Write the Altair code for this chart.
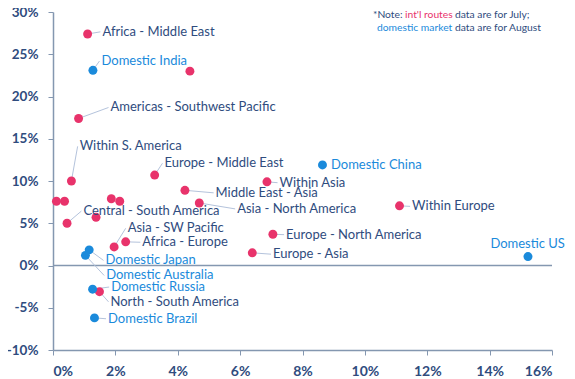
import altair as alt
import pandas as pd

# ---- data (percent growth) ----
names = [
    "Africa - Middle East", "", "Americas - Southwest Pacific", "Within S. America",
    "Europe - Middle East", "", "", "", "", "Central - South America", "",
    "Middle East - Asia", "Asia - North America", "Within Asia", "Within Europe",
    "Europe - North America", "Europe - Asia", "Asia - SW Pacific", "Africa - Europe",
    "North - South America",
    "Domestic India", "Domestic China", "Domestic US", "Domestic Japan",
    "Domestic Australia", "Domestic Russia", "Domestic Brazil",
]
x_vals = [1.11, 4.39, 0.82, 0.59, 3.26, 0.11, 0.37, 1.87, 2.14, 0.45, 1.38,
          4.23, 4.69, 6.86, 11.11, 7.05, 6.39, 1.96, 2.33, 1.49,
          1.28, 8.64, 15.23, 1.16, 1.04, 1.27, 1.33]
y_vals = [27.4, 23.0, 17.4, 10.0, 10.7, 7.6, 7.6, 7.9, 7.6, 5.0, 5.7,
          8.9, 7.4, 9.9, 7.06, 3.7, 1.5, 2.2, 2.8, -3.1,
          23.1, 11.9, 1.06, 1.85, 1.2, -2.8, -6.2]
kinds = ["intl"] * 20 + ["domestic"] * 7

# label anchor positions (data units) and whether a leader line is drawn
label_x = [1.52, None, 1.78, 0.79, 3.51, None, None, None, None, 0.91, None,
           5.15, 5.84, 7.20, 11.45, 7.41, 6.99, 2.33, 2.80, 1.78,
           1.49, 8.85, 13.96, 1.62, 1.64, 1.80, 1.70]
label_y = [27.65, None, 18.7, 14.1, 12.1, None, None, None, None, 6.44, None,
           8.6, 6.7, 9.8, 7.0, 3.65, 1.34, 4.4, 2.75, -4.3,
           24.2, 11.85, 2.5, 0.6, -1.18, -2.55, -6.3]
leader = [True, False, True, True, True, False, False, False, False, True, False,
          True, True, True, True, True, True, True, True, True,
          True, False, False, True, True, True, True]

x_ticks = [0, 2, 4, 6, 8, 10, 12, 14, 16]
y_ticks = [-10, -5, 0, 5, 10, 15, 20, 25, 30]

df = pd.DataFrame({"name": names, "x": x_vals, "y": y_vals, "kind": kinds,
                   "lx": label_x, "ly": label_y, "leader": leader})
lab = df[df["name"] != ""]
lead = df[df["leader"]]

PINK = "#E8336B"
BLUE = "#1A8ADB"
NAVY = "#2F4C7E"
AXIS = "#8497B0"
FONT = "Lato"

xs = alt.Scale(domain=[0, 16], nice=False)
ys = alt.Scale(domain=[-10, 30], nice=False)
dot_color = alt.condition("datum.kind == 'intl'", alt.value(PINK), alt.value(BLUE))
txt_color = alt.condition("datum.kind == 'intl'", alt.value(NAVY), alt.value(BLUE))

axes = alt.Chart(pd.DataFrame({"x": [0], "y": [0]})).mark_point(opacity=0).encode(
    x=alt.X("x:Q", scale=xs, title=None,
            axis=alt.Axis(values=x_ticks, labelExpr="datum.value + '%'", grid=False,
                          domainColor=AXIS, tickColor=AXIS, tickSize=5, domainWidth=1.5,
                          labelFont=FONT, labelFontSize=14, labelColor=NAVY, labelFontWeight="bold",
                          labelPadding=9)),
    y=alt.Y("y:Q", scale=ys, title=None,
            axis=alt.Axis(values=y_ticks, labelExpr="datum.value + '%'", grid=False,
                          domainColor=AXIS, tickColor=AXIS, tickSize=5, domainWidth=1.5,
                          labelFont=FONT, labelFontSize=13.5, labelColor=NAVY, labelFontWeight="bold",
                          labelPadding=10)),
)

zero = alt.Chart(pd.DataFrame({"y": [0], "x": [0], "x2": [16]})).mark_rule(
    color=AXIS, strokeWidth=1.5).encode(x=alt.X("x:Q", scale=xs), x2="x2:Q", y=alt.Y("y:Q", scale=ys))

leaders = alt.Chart(lead).mark_rule(color="#B4C3DC", strokeWidth=1).encode(
    x=alt.X("x:Q", scale=xs), y=alt.Y("y:Q", scale=ys), x2="lx:Q", y2="ly:Q")

dots = alt.Chart(df).mark_circle(size=80, opacity=1).encode(
    x=alt.X("x:Q", scale=xs), y=alt.Y("y:Q", scale=ys), color=dot_color)

labels = alt.Chart(lab).mark_text(align="left", baseline="middle", dx=2, font=FONT, fontSize=13).encode(
    x=alt.X("lx:Q", scale=xs), y=alt.Y("ly:Q", scale=ys), text="name:N", color=txt_color)

note_parts = [
    ("*Note:", NAVY, 373, 15),
    ("int'l routes", PINK, 405, 15),
    ("data are for July;", NAVY, 455, 15),
    ("domestic market", BLUE, 377, 28),
    ("data are for August", NAVY, 455, 28),
]
note_layers = []
for txt, col, px, py in note_parts:
    note_layers.append(
        alt.Chart(pd.DataFrame({"t": [txt]})).mark_text(
            align="left", baseline="middle", font=FONT, fontSize=10.3, color=col
        ).encode(x=alt.value(px - 53), y=alt.value(py - 12), text="t:N")
    )

chart = alt.layer(axes, zero, leaders, dots, labels, *note_layers).properties(
    width=499, height=338,
    autosize=alt.AutoSizeParams(type="none"),
    padding={"left": 45, "top": 4, "right": 14, "bottom": 28},
).configure_view(stroke=None)

chart.save("out.html", embed_options={"renderer": "svg", "actions": False})
